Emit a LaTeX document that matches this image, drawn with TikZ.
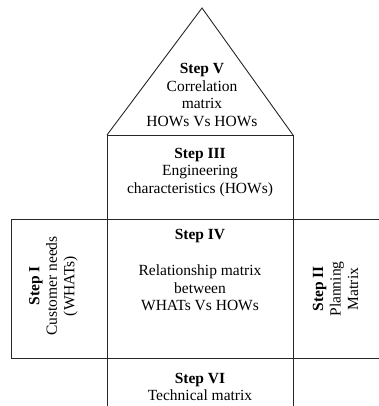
\documentclass[tikz,border=0pt]{standalone}
\usepackage{fontspec}
\setmainfont{Liberation Serif}
\begin{document}
\begin{tikzpicture}[x=1pt,y=-1pt,
  frame/.style={draw=black!85,line width=0.9pt},
  lbl/.style={align=center,inner sep=0pt,font=\fontsize{15.5}{17.5}\selectfont},
]
\useasboundingbox (0,0) rectangle (379,406);
% roof
\draw[frame] (107,135) -- (202,8) -- (293,135);
% central column
\draw[frame] (107,135) -- (293,135);
\draw[frame] (107,135) -- (107,406);
\draw[frame] (293,135) -- (293,406);
% middle band
\draw[frame] (11,219) -- (379,219);
\draw[frame] (11,358) -- (379,358);
\draw[frame] (11,219) -- (11,358);
% texts
\node[lbl] (s5) at (202,95) {\textbf{Step V}\\Correlation\\matrix\\HOWs Vs HOWs};
\node[lbl] (s3) at (200,172.5) {\textbf{Step III}\\Engineering\\characteristics (HOWs)};
\node[lbl] (s4) at (200,236) {\textbf{Step IV}};
\node[lbl] (s4b) at (200,288) {Relationship matrix\\between\\WHATs Vs HOWs};
\node[lbl] (s6) at (200,387) {\textbf{Step VI}\\Technical matrix};
\node[lbl,rotate=90] (s1) at (53.5,286) {\textbf{Step I}\\Customer needs\\(WHATs)};
\node[lbl,rotate=90] (s2) at (335.5,289) {\textbf{Step II}\\Planning\\Matrix};
\end{tikzpicture}
\end{document}
